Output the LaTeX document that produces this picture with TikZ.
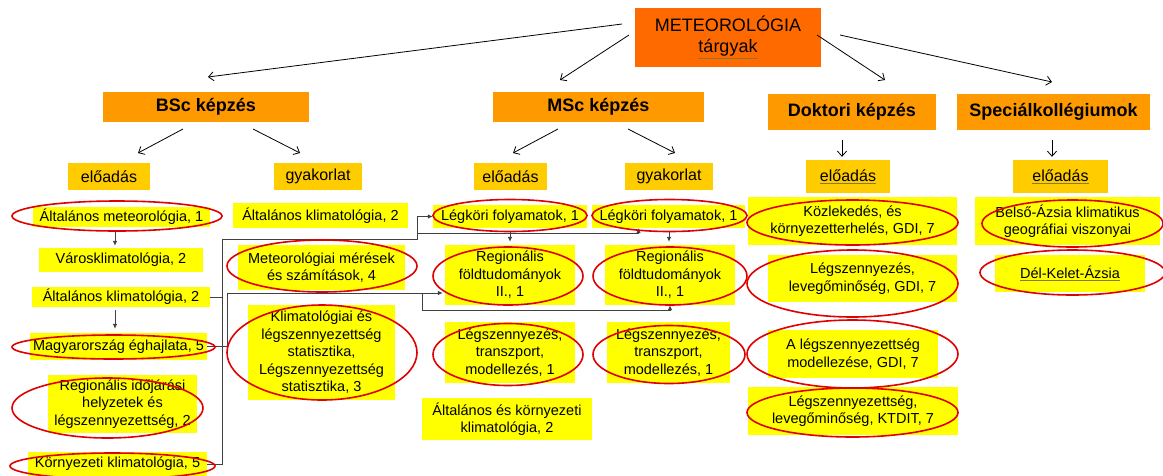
\documentclass[tikz,border=0pt]{standalone}
\usepackage{fontspec}
\setmainfont{Liberation Sans}
\usetikzlibrary{arrows.meta,calc}
\definecolor{orA}{HTML}{FF9900}
\definecolor{orB}{HTML}{FF6A00}
\definecolor{goldc}{HTML}{FFCC00}
\definecolor{yel}{HTML}{FFFF00}
\definecolor{ellred}{HTML}{E00000}
\definecolor{lng}{HTML}{404040}
\definecolor{ulc}{HTML}{8A7A30}
\newcommand{\ulx}[1]{{\color{ulc}\underline{\color{black}#1}}}
\begin{document}
\begin{tikzpicture}[x=1pt,y=-1pt,
  txt/.style={font=\fontsize{14.5}{17.5}\selectfont, align=center, inner sep=0pt, text=black},
  ybox/.style={txt, fill=yel},
  gbox/.style={fill=goldc, inner sep=0pt, font=\fontsize{16}{19}\selectfont, minimum height=27pt},
  obox/.style={fill=orA, inner sep=0pt, font=\bfseries\fontsize{18}{21}\selectfont, minimum height=30pt},
  ell/.style={draw=ellred, line width=1.6pt},
  arr/.style={draw=black, line width=0.8pt, -{Straight Barb[length=5pt,width=9pt]}},
  conn/.style={draw=lng, line width=0.8pt, -{Latex[length=5pt,width=4.5pt]}},
  plain/.style={draw=lng, line width=0.8pt},
]
\useasboundingbox (0,0) rectangle (1163,475);
\fill[white] (0,0) rectangle (1163,475);

% --- top level
\node[fill=orB, inner sep=0pt, minimum width=186pt, minimum height=59pt, align=center,
      font=\fontsize{18}{21}\selectfont] (meteo) at (728,37.5) {METEOROLÓGIA\\\ulx{tárgyak}};
\node[obox, minimum width=206pt] (bsc) at (206,107) {BSc képzés};
\node[obox, minimum width=211pt] (msc) at (598.5,107) {MSc képzés};
\node[obox, minimum width=168pt, minimum height=36pt] (dok) at (852,112) {Doktori képzés};
\node[obox, minimum width=193pt, minimum height=36pt] (spec) at (1053.5,112) {Speciálkollégiumok};

% --- second level
\node[gbox, minimum width=82pt] (bea) at (109,176.5) {előadás};
\node[gbox, minimum width=88pt] (bgy) at (318,176.5) {gyakorlat};
\node[gbox, minimum width=73pt] (mea) at (510.5,176.5) {előadás};
\node[gbox, minimum width=88pt] (mgy) at (669,176.5) {gyakorlat};
\node[gbox, minimum width=84pt, minimum height=33pt] (dea) at (848,176.5) {\ulx{előadás}};
\node[gbox, minimum width=95pt, minimum height=33pt] (sea) at (1060.5,176.5) {\ulx{előadás}};

% --- top arrows
\coordinate (t1) at (622,24);  \coordinate (h1) at (208,77);
\coordinate (t2) at (629,35);  \coordinate (h2) at (560,80);
\coordinate (t3) at (817,35);  \coordinate (h3) at (885,80);
\coordinate (t4) at (840,35);  \coordinate (h4) at (1052,82);
\draw[arr] (t1) -- (h1);
\draw[arr] (t2) -- (h2);
\draw[arr] (t3) -- (h3);
\draw[arr] (t4) -- (h4);
\coordinate (b1) at (183,129); \coordinate (b2) at (253,129);
\coordinate (m1) at (558,129); \coordinate (m2) at (628,129);
\draw[arr] (b1) -- (138,153);
\draw[arr] (b2) -- (300,153);
\draw[arr] (m1) -- (513,153);
\draw[arr] (m2) -- (675,153);
\draw[arr] ($(dok.south)+(-10,10)$) -- ($(dea.north)+(-6,-3)$);
\draw[arr] ($(spec.south)+(-1.5,10)$) -- ($(sea.north)+(-8.5,-3)$);

% --- BSc előadás column
\node[ybox, minimum width=177pt, minimum height=20pt] (alm) at (121.5,217) {Általános meteorológia, 1};
\node[ybox, minimum width=164pt, minimum height=24pt] (varos) at (121,260) {Városklimatológia, 2};
\node[ybox, minimum width=178pt, minimum height=20pt] (alk) at (121,297) {Általános klimatológia, 2};
\node[ybox, minimum width=177pt, minimum height=27pt] (magy) at (118.5,346.5) {Magyarország éghajlata, 5};
\node[ybox, minimum width=149pt, minimum height=58pt] (regi) at (122.5,404) {Regionális időjárási\\helyzetek és\\légszennyezettség, 2};
\node[ybox, minimum width=179pt, minimum height=24pt] (korny) at (117.5,464) {Környezeti klimatológia, 5};

% --- BSc gyakorlat column
\node[ybox, minimum width=175pt, minimum height=25pt] (alk2) at (320.5,215.5) {Általános klimatológia, 2};
\node[ybox, minimum width=167pt, minimum height=45pt] (mer) at (321.5,267.5) {Meteorológiai mérések\\és számítások, 4};
\node[ybox, minimum width=147pt, minimum height=95pt] (klim) at (321.5,352.5) {Klimatológiai és\\légszennyezettség\\statisztika,\\Légszennyezettség\\statisztika, 3};

% --- MSc előadás column
\node[ybox, minimum width=154pt, minimum height=23pt] (leg1) at (510,216.5) {Légköri folyamatok, 1};
\node[ybox, minimum width=130pt, minimum height=60pt] (reg1) at (510,275) {Regionális\\földtudományok\\II., 1};
\node[ybox, minimum width=130pt, minimum height=61pt] (lsz1) at (510,352.5) {Légszennyezés,\\transzport,\\modellezés, 1};
\node[ybox, minimum width=170pt, minimum height=42pt] (alt) at (507,419) {Általános és környezeti\\klimatológia, 2};

% --- MSc gyakorlat column
\node[ybox, minimum width=153pt, minimum height=23pt] (leg2) at (668.5,216.5) {Légköri folyamatok, 1};
\node[ybox, minimum width=130pt, minimum height=60pt] (reg2) at (670,275) {Regionális\\földtudományok\\II., 1};
\node[ybox, minimum width=123pt, minimum height=61pt] (lsz2) at (668.5,352.5) {Légszennyezés,\\transzport,\\modellezés, 1};

% --- Doktori column
\node[ybox, minimum width=209pt, minimum height=48pt] (koz) at (852.5,221) {Közlekedés, és\\környezetterhelés, GDI, 7};
\node[ybox, minimum width=189pt, minimum height=47pt] (lev) at (862.5,278.5) {Légszennyezés,\\levegőminőség, GDI, 7};
\node[ybox, minimum width=170pt, minimum height=48pt] (mod) at (853,354) {A légszennyezettség\\modellezése, GDI, 7};
\node[ybox, minimum width=210pt, minimum height=48pt] (ktd) at (853,411) {Légszennyezettség,\\levegőminőség, KTDIT, 7};

% --- Speciálkollégiumok column
\node[ybox, minimum width=185pt, minimum height=48pt] (bel) at (1067.5,221) {Belső-Ázsia klimatikus\\geográfiai viszonyai};
\node[ybox, minimum width=150pt, minimum height=37pt] (del) at (1070,273.5) {\ulx{Dél-Kelet-Ázsia}};

% --- connectors
\draw[conn] ($(alm.south)+(-6.5,3)$) -- ($(varos.north)+(-6,-2)$);
\draw[conn] ($(alk.south)+(-6,3)$) -- ($(magy.north)+(-3.5,-4)$);
\draw[conn] ($(leg1.south)+(0,4)$) -- ($(reg1.north)+(0,-3)$);
\draw[conn] ($(leg2.south)+(0.5,4)$) -- ($(reg2.north)+(-1,-3)$);

\coordinate (nA) at (222,239);
\coordinate (nA2) at (417,239);
\coordinate (nA3) at (417,233);
\draw[plain] (alk.east) -| (nA);
\draw[plain] (korny.east) -| (nA);
\draw[conn] (nA) -- (nA2) |- (leg1.west);
\draw[conn] (nA3) -| ($(leg2.south)+(-30,0)$);

\coordinate (nB) at (227,293);
\coordinate (nB2) at (422,293);
\coordinate (nB3) at (422,310);
\draw[plain] (magy.east) -| (nB);
\draw[conn] (nB) -- ($(reg1.west)+(-2,18)$);
\draw[conn] (nB2) -- (nB3) -| (reg2.south);

% --- red ellipses
\draw[ell] (117,216) ellipse [x radius=105pt, y radius=15pt];
\draw[ell] (113.5,347) ellipse [x radius=101.5pt, y radius=12pt];
\draw[ell] (107.5,408) ellipse [x radius=95.5pt, y radius=30pt];
\draw[ell] (112.5,466) ellipse [x radius=102.5pt, y radius=13pt];
\draw[ell] (322,266) ellipse [x radius=95pt, y radius=26pt];
\draw[ell] (322,352.5) ellipse [x radius=95pt, y radius=47.5pt];
\draw[ell] (510,215.5) ellipse [x radius=77pt, y radius=16pt];
\draw[ell] (508,276) ellipse [x radius=75pt, y radius=29pt];
\draw[ell] (508,354.5) ellipse [x radius=75pt, y radius=31pt];
\draw[ell] (669.5,215.5) ellipse [x radius=77.5pt, y radius=16pt];
\draw[ell] (670,276) ellipse [x radius=77pt, y radius=29pt];
\draw[ell] (669,354.5) ellipse [x radius=76pt, y radius=29pt];
\draw[ell] (852.5,222.5) ellipse [x radius=105.5pt, y radius=22.5pt];
\draw[ell] (852.5,283.5) ellipse [x radius=105.5pt, y radius=33.5pt];
\draw[ell] (852.5,354) ellipse [x radius=105.5pt, y radius=34pt];
\draw[ell] (852.5,412.5) ellipse [x radius=105.5pt, y radius=24.5pt];
\draw[ell] (1072.5,223.5) ellipse [x radius=90.5pt, y radius=23.5pt];
\draw[ell] (1072.5,272.5) ellipse [x radius=92.5pt, y radius=22.5pt];
\end{tikzpicture}
\end{document}
